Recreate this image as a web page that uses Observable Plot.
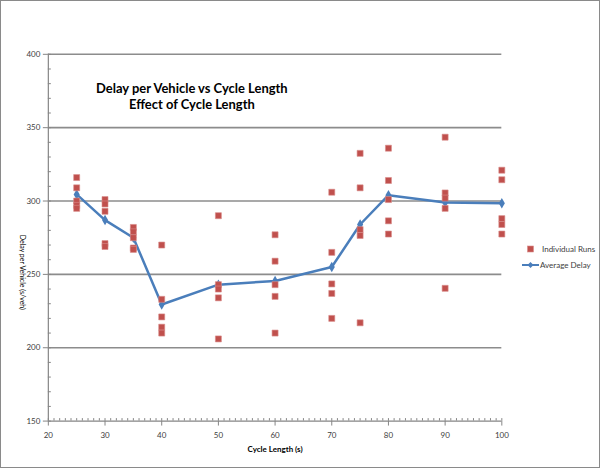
<!DOCTYPE html>
<html><head><meta charset="utf-8">
<script src="https://cdn.jsdelivr.net/npm/d3@7"></script>
<script src="https://cdn.jsdelivr.net/npm/@observablehq/plot@0.6"></script>
<style>
body{margin:0;background:#fff;}
#wrap{position:relative;width:600px;height:468px;box-sizing:border-box;border:1px solid #8a8a8a;overflow:hidden;background:#fff;}
#wrap > svg{position:absolute;left:-1px;top:-1px;}
.legend{position:absolute;font-family:Lato,"Open Sans",sans-serif;font-size:8px;color:#404040;}
.legend div{display:flex;align-items:center;height:14px;}
</style></head><body><div id="wrap"></div>
<script>
const cycles = [25, 30, 35, 40, 50, 60, 70, 75, 80, 90, 100];
const avgDelay = [304.5, 287, 275, 229.5, 243, 245.5, 255, 284, 304, 299, 298.5];
const runCycle = [
  25,25,25,25,25, 30,30,30,30,30, 35,35,35,35,35, 40,40,40,40,40,
  50,50,50,50,50, 60,60,60,60,60, 70,70,70,70,70, 75,75,75,75,75,
  80,80,80,80,80, 90,90,90,90,90, 100,100,100,100,100
];
const runDelay = [
  316,309,300,297,295, 301,298,293,271,269, 282,279,275,268,267, 270,233,221,214,210,
  290,243,240,234,206, 277,259,243,235,210, 306,265,243.5,237,220, 332.5,309,280.5,276.5,217,
  336,314,301,286.5,277.5, 343.5,305.5,302,295,240.5, 321,314.5,288,284,277.5
];
const yTicks = [150, 200, 250, 300, 350, 400];
const yGrid = [200, 250, 300, 350, 400];
const yMinor = d3.range(150, 401, 10);
const xTicks = [20, 30, 40, 50, 60, 70, 80, 90, 100];
const xMinor = d3.range(20, 101, 1);
const titleLines = "Delay per Vehicle vs Cycle Length\nEffect of Cycle Length";
const xLabel = "Cycle Length (s)";
const yLabel = "Delay per Vehicle (s/veh)";
const legendLabels = ["Individual Runs", "Average Delay"];

const avg = cycles.map((c, i) => ({cycle: c, delay: avgDelay[i]}));
const runs = runCycle.map((c, i) => ({cycle: c, delay: runDelay[i]}));

const red = "#C0504D", blue = "#4A7EBB", axisGray = "#868686", textGray = "#404040";
const font = "Lato, 'Open Sans', sans-serif";

const plot = Plot.plot({
  width: 600, height: 468,
  marginLeft: 48, marginRight: 97, marginTop: 54, marginBottom: 46,
  x: {domain: [20, 100]},
  y: {domain: [150, 400]},
  style: {fontFamily: font, background: "transparent"},
  marks: [
    Plot.ruleY(yGrid, {stroke: "#8c8c8c", strokeWidth: 1.6}),
    Plot.axisY({ticks: yTicks, tickSize: 5, tickPadding: 3, fontSize: 8, fill: textGray, stroke: axisGray, label: null}),
    Plot.axisY({ticks: yMinor, tickSize: -3, text: null, stroke: axisGray, label: null}),
    Plot.axisX({ticks: xTicks, tickSize: 5, tickPadding: 6, fontSize: 8, fill: textGray, stroke: axisGray, label: null}),
    Plot.axisX({ticks: xMinor, tickSize: -2.5, text: null, stroke: axisGray, label: null}),
    Plot.ruleX([20], {stroke: axisGray, strokeWidth: 1.2}),
    Plot.ruleY([150], {stroke: axisGray, strokeWidth: 1.2}),
    Plot.line(avg, {x: "cycle", y: "delay", stroke: blue, strokeWidth: 2.5}),
    Plot.dot(avg, {x: "cycle", y: "delay", symbol: "diamond", r: 3.2, fill: blue}),
    Plot.dot(runs, {x: "cycle", y: "delay", symbol: "square", r: 3.4, fill: red, stroke: "#d98c8a", strokeWidth: 0.6}),
    Plot.text([titleLines], {frameAnchor: "top-left", dx: 144, dy: 41.5, textAnchor: "middle", lineAnchor: "middle", fontSize: 13, fontWeight: "bold", fill: "#000", lineHeight: 1.3}),
    Plot.text([xLabel], {frameAnchor: "bottom", dy: 31, fontSize: 8, fontWeight: "bold", fill: "#000"}),
    Plot.text([yLabel], {frameAnchor: "left", dx: -26, dy: -3, rotate: 90, fontSize: 7, fill: "#000"})
  ]
});
const wrap = document.getElementById("wrap");
wrap.appendChild(plot);

const leg = document.createElement("div");
leg.className = "legend";
leg.style.left = "521px";
leg.style.top = "241px";
leg.innerHTML = `
<div><svg width="17" height="10"><rect x="5.5" y="2" width="6" height="6" fill="${red}" stroke="#d98c8a" stroke-width="0.6"/></svg><span style="margin-left:3px">${legendLabels[0]}</span></div>
<div style="margin-top:2px"><svg width="17" height="10"><line x1="0" y1="5" x2="17" y2="5" stroke="${blue}" stroke-width="2"/><path d="M8.5,2 L11.5,5 L8.5,8 L5.5,5Z" fill="${blue}"/></svg><span style="margin-left:1px">${legendLabels[1]}</span></div>`;
wrap.appendChild(leg);
</script>
</body></html>
